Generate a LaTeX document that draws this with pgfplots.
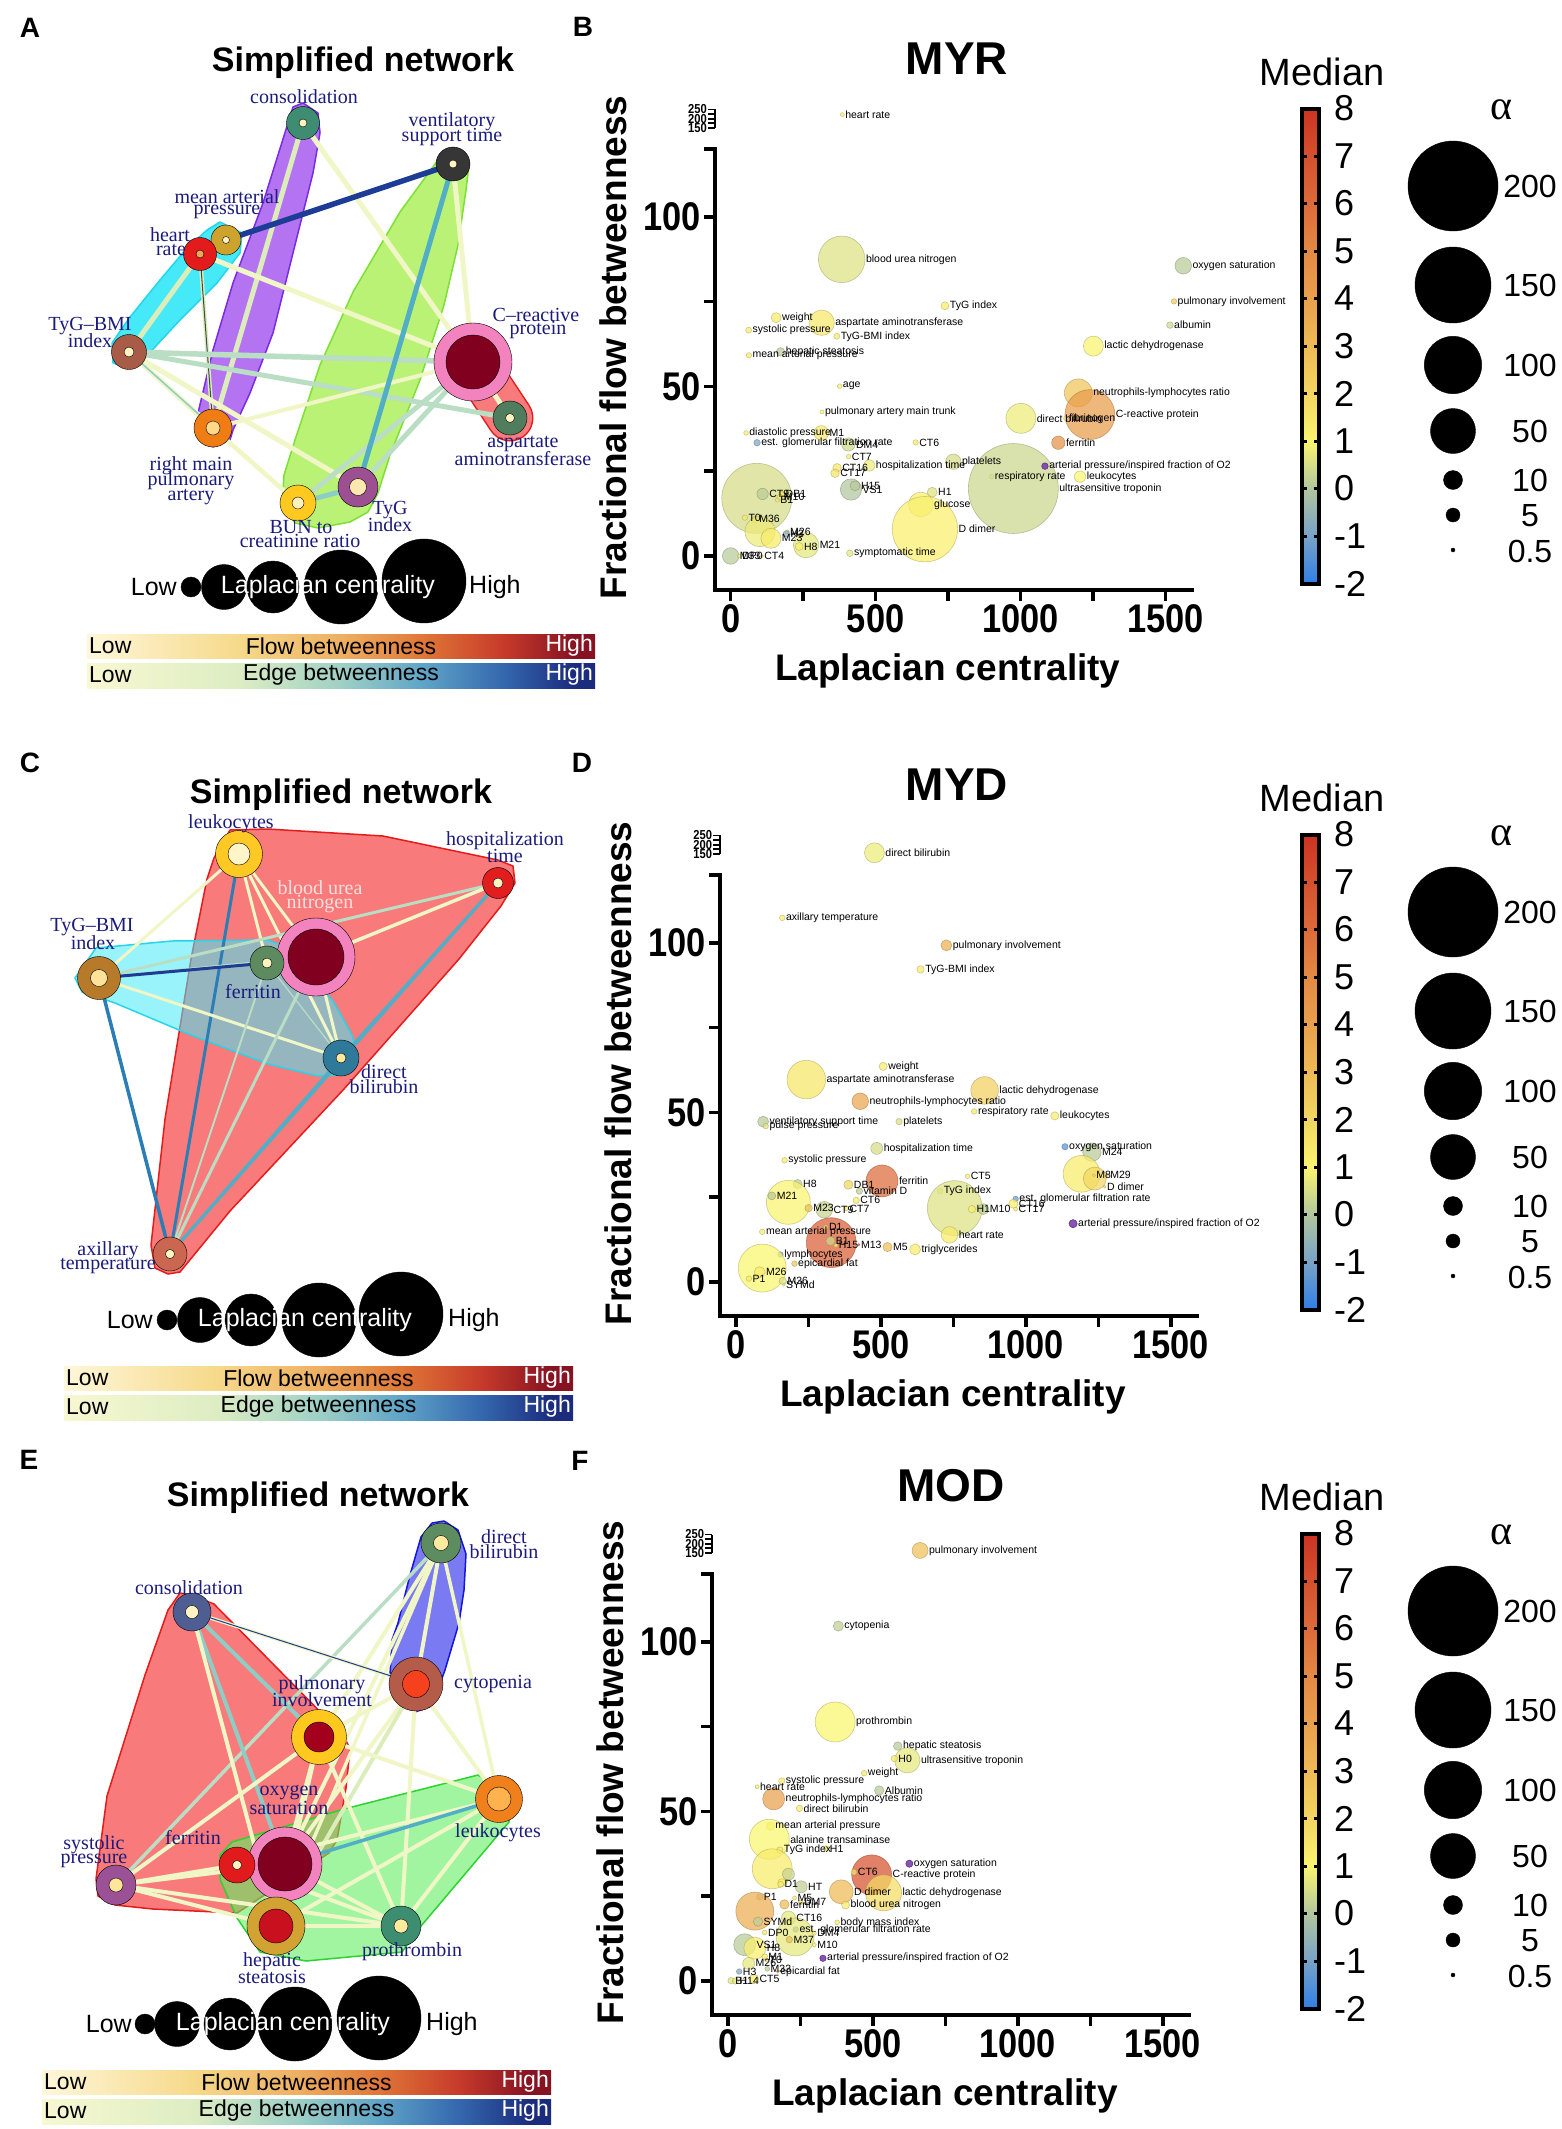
\documentclass[border=0pt]{standalone}
\usepackage{fontspec}
\setmainfont{Liberation Sans}
\newfontfamily\netfont{Liberation Serif}
\newfontfamily\tickfont[FakeStretch=0.86]{Liberation Sans}
\usepackage{pgfplots}
\usepackage{pgfplotstable}
\pgfplotsset{compat=1.18}

% edge colours (edge betweenness)
\definecolor{eL}{HTML}{F1F6C6}
\definecolor{eLG}{HTML}{DCEDBB}
\definecolor{eG}{HTML}{B9DEC4}
\definecolor{eT}{HTML}{8ECDC6}
\definecolor{eT2}{HTML}{52AEC6}
\definecolor{eB}{HTML}{2B7DB6}
\definecolor{eN}{HTML}{1D3C95}
\definecolor{eD}{HTML}{3A4A4A}
\definecolor{labc}{HTML}{1B1B7C}
\definecolor{pale}{HTML}{FFF3C2}
\definecolor{pinkR}{HTML}{F283BE}
\definecolor{maroon}{HTML}{82001F}
\definecolor{pur}{HTML}{7B3FB0}
% node colours
\definecolor{kAcons}{HTML}{3E8C72}
\definecolor{kAvent}{HTML}{363636}
\definecolor{kAmap}{HTML}{CDA32E}
\definecolor{kAhr}{HTML}{E31B1B}
\definecolor{kAhrI}{HTML}{F5A35A}
\definecolor{kAtbmi}{HTML}{A85B46}
\definecolor{kAast}{HTML}{4F7D5D}
\definecolor{kArmpa}{HTML}{F07C14}
\definecolor{kArmpaI}{HTML}{FFD98A}
\definecolor{kAbun}{HTML}{FFC91F}
\definecolor{kAbunI}{HTML}{FFF2B8}
\definecolor{kAtyg}{HTML}{9C4F91}
\definecolor{kAtygI}{HTML}{FDE7B0}
\definecolor{kCleu}{HTML}{FFC925}
\definecolor{kCleuI}{HTML}{FFF5C8}
\definecolor{kChosp}{HTML}{E11D1D}
\definecolor{kCtbmi}{HTML}{B67A2A}
\definecolor{kCtbmiI}{HTML}{FFE29A}
\definecolor{kCfer}{HTML}{5D8B5F}
\definecolor{kCdb}{HTML}{2F7A9A}
\definecolor{kCdbI}{HTML}{FFE9A0}
\definecolor{kCax}{HTML}{CB6650}
\definecolor{kEdb}{HTML}{5C8C60}
\definecolor{kEdbI}{HTML}{FFEBA0}
\definecolor{kEcons}{HTML}{4F5E92}
\definecolor{kEcyt}{HTML}{B55B4A}
\definecolor{kEcytI}{HTML}{F5411E}
\definecolor{kEpul}{HTML}{FFC81F}
\definecolor{kEpulI}{HTML}{A3001E}
\definecolor{kEleu}{HTML}{F0801B}
\definecolor{kEleuI}{HTML}{FFB24E}
\definecolor{kEfer}{HTML}{E11B1B}
\definecolor{kEsys}{HTML}{9A5195}
\definecolor{kEsysI}{HTML}{FFE49A}
\definecolor{kEhep}{HTML}{D2A232}
\definecolor{kEhepI}{HTML}{C9101F}
\definecolor{kEpro}{HTML}{3D8E71}
% hull colours
\definecolor{cyA}{HTML}{45E9F8}
\definecolor{cyAb}{HTML}{25D5EC}
\definecolor{puA}{HTML}{B474F2}
\definecolor{puAb}{HTML}{7A2BE2}
\definecolor{grA}{HTML}{B9F275}
\definecolor{grAb}{HTML}{7DE035}
\definecolor{rdA}{HTML}{F87A7A}
\definecolor{rdAb}{HTML}{E41C1C}
\definecolor{blE}{HTML}{7A7AF2}
\definecolor{blEb}{HTML}{1515E0}
\definecolor{grE}{HTML}{62EE62}
\definecolor{grEb}{HTML}{2ED32E}
% gradient bars
\definecolor{f0}{HTML}{FFF7DA}
\definecolor{f1}{HTML}{F6D98A}
\definecolor{f2}{HTML}{EEB062}
\definecolor{f3}{HTML}{E07737}
\definecolor{f4}{HTML}{C63A2A}
\definecolor{f5}{HTML}{861222}
\definecolor{g0}{HTML}{F8F8D2}
\definecolor{g1}{HTML}{DDEDC3}
\definecolor{g2}{HTML}{9ED0C5}
\definecolor{g3}{HTML}{5FA5C8}
\definecolor{g4}{HTML}{3467AE}
\definecolor{g5}{HTML}{1B2B7E}
% median colour scale, -2 ... 8
\definecolor{m0}{RGB}{47,127,230}
\definecolor{m1}{RGB}{120,162,200}
\definecolor{m2}{RGB}{178,197,158}
\definecolor{m3}{RGB}{250,245,110}
\definecolor{m4}{RGB}{243,214,96}
\definecolor{m5}{RGB}{238,186,85}
\definecolor{m6}{RGB}{233,160,76}
\definecolor{m7}{RGB}{228,137,67}
\definecolor{m8}{RGB}{221,106,57}
\definecolor{m9}{RGB}{213,80,46}
\definecolor{m10}{RGB}{204,51,34}
\pgfdeclarehorizontalshading{flowsh}{100bp}{color(0bp)=(f0); color(25bp)=(f0); color(40bp)=(f1); color(50bp)=(f2); color(58bp)=(f3); color(66bp)=(f4); color(73bp)=(f5); color(75bp)=(f5); color(100bp)=(f5)}
\pgfdeclarehorizontalshading{edgesh}{100bp}{color(0bp)=(g0); color(25bp)=(g0); color(40bp)=(g1); color(50bp)=(g2); color(58bp)=(g3); color(66bp)=(g4); color(73bp)=(g5); color(75bp)=(g5); color(100bp)=(g5)}
\pgfdeclareverticalshading{medsh}{100bp}{color(0bp)=(m0); color(25bp)=(m0); color(30bp)=(m1); color(35bp)=(m2); color(40bp)=(m3); color(45bp)=(m4); color(50bp)=(m5); color(55bp)=(m6); color(60bp)=(m7); color(65bp)=(m8); color(70bp)=(m9); color(75bp)=(m10); color(100bp)=(m10)}

% network helpers (canvas units = reference pixels)
\newcommand\setnd[3]{\expandafter\def\csname ndX#1\endcsname{#2,#3}}
\newcommand\NC[1]{\csname ndX#1\endcsname}
\newcommand\ed[4]{\edef\tmp{\noexpand\addplot[draw=#3,line width=#4pt,forget plot] coordinates {(\NC{#1}) (\NC{#2})};}\tmp}
\newcommand\nd[5]{\edef\tmp{\noexpand\addplot[only marks,mark=*,mark size=#2,mark options={draw=none,fill=#3},forget plot] coordinates {(\NC{#1})};\noexpand\addplot[only marks,mark=*,mark size=#4,mark options={draw=none,fill=#5},forget plot] coordinates {(\NC{#1})};}\tmp}
\newcommand\bub[3]{\addplot[only marks,mark=*,mark size=#3,mark options={draw=none,fill=black},forget plot] coordinates {(#1,#2)};}
\newcommand\nf{\netfont\fontsize{20}{20}\selectfont}
\newcommand\lb[3]{\node[font=\nf,text=labc,inner sep=0pt] at (axis cs:#1,#2) {#3};}
\newcommand\lbw[3]{\node[font=\nf,text=red!12,inner sep=0pt] at (axis cs:#1,#2) {#3};}
\newcommand\barf{\fontsize{23}{23}\selectfont}
\newcommand\lapf{\fontsize{25}{25}\selectfont}
\newcommand\titf{\bfseries\fontsize{34}{34}\selectfont}
\newcommand\letf{\bfseries\fontsize{28}{28}\selectfont}
\newcommand\lblf{\fontsize{10.5}{10.5}\selectfont}

% Laplacian legend circles: y, five circle x
\newcommand\lapc[6]{\bub{#2}{#1}{10}\bub{#3}{#1}{22.5}\bub{#4}{#1}{26}\bub{#5}{#1}{37}\bub{#6}{#1-6}{42}}
% Laplacian legend texts: y, Low right edge, High left edge, text x
\newcommand\lapt[4]{%
  \node[font=\lapf,anchor=east,inner sep=0pt] at (axis cs:#2,#1) {Low};
  \node[font=\lapf,anchor=west,inner sep=0pt] at (axis cs:#3,#1) {High};
  \node[font=\lapf,text=white,inner sep=0pt] at (axis cs:#4,#1) {Laplacian centrality};}
% gradient bars: x0, x1, y0
\newcommand\barsh[3]{%
  \addplot[draw=none,shade,shading=flowsh,forget plot] coordinates {(#1,#3) (#2,#3) (#2,#3+24) (#1,#3+24)} -- cycle;
  \addplot[draw=none,shade,shading=edgesh,forget plot] coordinates {(#1,#3+29) (#2,#3+29) (#2,#3+54) (#1,#3+54)} -- cycle;}
\newcommand\bart[3]{%
  \node[font=\barf,anchor=west,inner sep=0pt] at (axis cs:#1+2,#3+12) {Low};
  \node[font=\barf,inner sep=0pt] at (axis cs:{(#1+#2)/2},#3+12) {Flow betweenness};
  \node[font=\barf,anchor=east,inner sep=0pt,text=white] at (axis cs:#2-2,#3+12) {High};
  \node[font=\barf,anchor=west,inner sep=0pt] at (axis cs:#1+2,#3+41) {Low};
  \node[font=\barf,inner sep=0pt] at (axis cs:{(#1+#2)/2},#3+41) {Edge betweenness};
  \node[font=\barf,anchor=east,inner sep=0pt,text=white] at (axis cs:#2-2,#3+41) {High};}
% median colour bar and alpha size legend: y offset
\newcommand\sizeb[1]{%
  \addplot[shade,shading=medsh,draw=black,line width=4pt,forget plot] coordinates {(1302,108.5+#1) (1319,108.5+#1) (1319,583.5+#1) (1302,583.5+#1)} -- cycle;
  \bub{1453}{186+#1}{45}\bub{1453}{285+#1}{38}\bub{1453}{365+#1}{28.7}\bub{1453}{431+#1}{22.5}
  \bub{1453}{480+#1}{9.5}\bub{1453}{515+#1}{7}\bub{1453}{550+#1}{2}}
\newcommand\sizet[1]{%
  \node[font=\fontsize{38}{38}\selectfont] at (axis cs:1322,72+#1) {Median};
  \node[font=\netfont\fontsize{42}{42}\selectfont] at (axis cs:1501,110+#1) {α};
  \pgfplotsinvokeforeach{-1,0,1,2,3,4,5,6,7}{%
    \draw[line width=3pt] (axis cs:1302,{583.5-(##1+2)*47.5+#1}) -- (axis cs:1307,{583.5-(##1+2)*47.5+#1});
    \draw[line width=3pt] (axis cs:1314,{583.5-(##1+2)*47.5+#1}) -- (axis cs:1319,{583.5-(##1+2)*47.5+#1});}
  \pgfplotsinvokeforeach{-2,-1,0,1,2,3,4,5,6,7,8}{%
    \node[font=\fontsize{36}{36}\selectfont,anchor=west,inner sep=0pt] at (axis cs:1334,{583.5-(##1+2)*47.5+#1}) {##1};}
  \node[font=\fontsize{32}{32}\selectfont] at (axis cs:1530,186+#1) {200};
  \node[font=\fontsize{32}{32}\selectfont] at (axis cs:1530,285+#1) {150};
  \node[font=\fontsize{32}{32}\selectfont] at (axis cs:1530,365+#1) {100};
  \node[font=\fontsize{32}{32}\selectfont] at (axis cs:1530,431+#1) {50};
  \node[font=\fontsize{32}{32}\selectfont] at (axis cs:1530,480+#1) {10};
  \node[font=\fontsize{32}{32}\selectfont] at (axis cs:1530,516+#1) {5};
  \node[font=\fontsize{32}{32}\selectfont] at (axis cs:1530,551+#1) {0.5};}

\pgfplotsset{
  colormap={med}{rgb255(0pt)=(47,127,230); rgb255(1pt)=(120,162,200); rgb255(2pt)=(178,197,158); rgb255(3pt)=(250,245,110); rgb255(4pt)=(243,214,96); rgb255(5pt)=(238,186,85); rgb255(6pt)=(233,160,76); rgb255(7pt)=(228,137,67); rgb255(8pt)=(221,106,57); rgb255(9pt)=(213,80,46); rgb255(10pt)=(204,51,34)},
  canvas/.style={at={(0pt,0pt)}, anchor=south west, scale only axis, width=1562pt, height=2129pt,
    xmin=0, xmax=1562, ymin=0, ymax=2129, y dir=reverse, hide axis, clip=false},
  geom/.style={anchor=south west, scale only axis, width=479pt, height=484.8pt,
    xmin=-54, xmax=1598, ymin=-10, ymax=133, clip=false},
  scat/.style={geom,
    axis x line*=bottom, axis y line*=left,
    x axis line style={line width=3.5pt},
    y axis line style={draw=none},
    xtick={0,500,1000,1500}, minor xtick={250,750,1250},
    ytick={0,50,100}, minor ytick={25,75,120},
    extra y ticks={126.3,127.65,129,130.35,131.7},
    extra y tick labels={150,,200,,250},
    extra y tick style={major tick length=7pt, tick style={line width=1.8pt},
      ticklabel style={font=\tickfont\bfseries\fontsize{13}{13}\selectfont, inner sep=1pt}},
    tick align=outside, major tick length=11pt, minor tick length=11pt,
    tick style={black, line width=3.5pt},
    ticklabel style={font=\tickfont\bfseries\fontsize{40}{40}\selectfont},
    /pgf/number format/assume math mode=true,
    /pgf/number format/1000 sep={},
    xlabel={Laplacian centrality}, ylabel={Fractional flow betweenness},
    xlabel style={font=\bfseries\fontsize{37}{37}\selectfont, at={(axis description cs:0.486,-0.168)}, anchor=center},
    ylabel style={font=\bfseries\fontsize{37}{37}\selectfont, at={(axis description cs:-0.212,0.5)}, anchor=center},
    point meta min=-2, point meta max=8},
}
% one bubble per table row: #1 table, #2 marker style
\newcommand\bubbles[2]{%
  \pgfplotstablegetrowsof{#1}\pgfmathtruncatemacro\nrows{\pgfplotsretval-1}%
  \pgfplotsforeachungrouped \i in {0,...,\nrows}{%
    \pgfplotstablegetelem{\i}{x}\of{#1}\let\vx\pgfplotsretval
    \pgfplotstablegetelem{\i}{y}\of{#1}\let\vy\pgfplotsretval
    \pgfplotstablegetelem{\i}{r}\of{#1}\let\vr\pgfplotsretval
    \pgfplotstablegetelem{\i}{m}\of{#1}\let\vm\pgfplotsretval
    \edef\tmp{\noexpand\addplot[scatter, only marks, mark=*, mark size=\vr, point meta=\vm, scatter/use mapped color={#2}, forget plot] coordinates {(\vx,\vy)};}\tmp}}
% labels right of each bubble
\newcommand\bublabels[1]{%
  \pgfplotstablegetrowsof{#1}\pgfmathtruncatemacro\nrows{\pgfplotsretval-1}%
  \pgfplotsforeachungrouped \i in {0,...,\nrows}{%
    \pgfplotstablegetelem{\i}{x}\of{#1}\let\vx\pgfplotsretval
    \pgfplotstablegetelem{\i}{y}\of{#1}\let\vy\pgfplotsretval
    \pgfplotstablegetelem{\i}{r}\of{#1}\let\vr\pgfplotsretval
    \pgfplotstablegetelem{\i}{lab}\of{#1}\let\vl\pgfplotsretval
    \edef\tmp{\noexpand\node[anchor=west, xshift=\vr pt+0.8pt, font=\noexpand\lblf, inner sep=0pt] at (axis cs:\vx,\vy) {\vl};}\tmp}}
\newcommand\yline{\draw[line width=3.5pt,line cap=rect] (axis cs:-54,-10) -- (axis cs:-54,120);
  \draw[line width=1.8pt] (axis cs:-54,126.3) -- (axis cs:-54,131.7);}

% ---------- scatter data: x = Laplacian centrality, y = flow betweenness (150-250 segment compressed above 126), r = radius, m = median
\pgfplotstableread{
x y r m lab
385 130.2 2 1.2 {heart rate}
383 87.5 23.3 0.6 {blood urea nitrogen}
1561 85.6 8.3 0.1 {oxygen saturation}
1529 75.1 2.7 2.3 {pulmonary involvement}
1515 68.1 3.3 0.4 {albumin}
739 73.8 4 1.3 {TyG index}
157 70.3 5 1.3 {weight}
314 68.8 12.7 1.4 {aspartate aminotransferase}
62 66.6 3 1.3 {systolic pressure}
366 64.8 3 1.3 {TyG-BMI index}
172 60.2 4.3 0.1 {hepatic steatosis}
63 59.2 2.7 1.3 {mean arterial pressure}
1251 61.9 10 1.1 {lactic dehydrogenase}
376 50.1 2.3 1.2 {age}
1199 48.1 14 2.6 {neutrophils-lymphocytes ratio}
1239 41.7 25 4.2 {C-reactive protein}
1001 40.6 15 0.8 {direct bilirubin}
1156 40.6 2.3 1.6 {fibrinogen}
315 42.5 2 1.1 {pulmonary artery main trunk}
53 36.3 2.3 1.2 {diastolic pressure}
91 33.4 3.3 -0.9 {est. glomerular filtration rate}
313 36.3 7.3 1.4 {M1}
406 32.9 6.7 0.4 {DM4}
638 33.5 2.7 1.3 {CT6}
1130 33.4 6.7 4.6 {ferritin}
407 29.3 2.3 1.2 {CT7}
478 26.7 5.7 0.8 {hospitalization time}
768 27.8 7.7 0.5 {platelets}
367 26 4.3 1.5 {CT16}
360 24.4 4.3 1.5 {CT17}
900 23.4 2.3 1.2 {respiratory rate}
1205 23.4 5.7 1.0 {leukocytes}
975 19.9 45 0.35 {ultrasensitive troponin}
415 19.6 10.7 0.0 {VS1}
429 20.7 5 0.1 {H15}
90 17 35 0.5 {}
110 18.3 5.7 0.1 {CT9}
176 18.2 3 1.6 {DB1}
170 17.3 3 1.3 {M10}
161 16.5 2 1.3 {B1}
695 18.8 5 0.6 {H1}
656 15.2 12.3 1.2 {glucose}
670 7.9 32.7 1.2 {D dimer}
49 11.3 2.7 1.3 {T0}
84 10.8 3.3 1.2 {M36}
101 7.2 15 0.8 {}
195 7.1 2 1.2 {M26}
192 6.5 3.3 -0.7 {H3}
139 5.2 10 1.3 {M23}
260 3.2 12.7 0.7 {M21}
236 2.8 4 1.2 {H8}
0 0 8.3 0.1 {M33}
30 0 2 1.3 {DP0}
107 0 1.7 1.3 {CT4}
411 0.8 3.3 0.7 {symptomatic time}
}\tabB
\pgfplotstableread{
x y r m lab
1084 26.5 3.3 -1.6 {arterial pressure/inspired fraction of O2}
}\tabBp
\pgfplotstableread{
x y r m lab
478 126.6 10 0.8 {direct bilirubin}
160 107.4 2.8 1.2 {axillary temperature}
726 99.3 5.5 3.4 {pulmonary involvement}
637 92.2 3.7 1.3 {TyG-BMI index}
508 63.6 4.1 1.3 {weight}
243 59.7 19.3 1.5 {aspartate aminotransferase}
858 56.5 13.8 2.2 {lactic dehydrogenase}
429 53.3 8.3 3.8 {neutrophils-lymphocytes ratio}
822 50.3 2.8 1.3 {respiratory rate}
1100 49 4.1 1.3 {leukocytes}
94 47.3 5.5 0.1 {ventilatory support time}
103 46 2.8 0.7 {pulse pressure}
563 47.3 3.2 0.6 {platelets}
1135 39.9 3.2 -1.4 {oxygen saturation}
1228 38.3 9.2 0.1 {M24}
486 39.4 6 0.5 {hospitalization time}
168 35.9 2.8 1.3 {systolic pressure}
1192 31.9 18.4 1.3 {}
1238 30.5 11.5 2.0 {}
1235 31.5 1.5 1.3 {M8}
1283 31.5 1.5 1.3 {M29}
1272 28.1 1.5 1.5 {D dimer}
504 29.8 16 6.0 {ferritin}
799 31.2 2.3 1.2 {CT5}
213 28.9 4.6 0.2 {H8}
181 23.5 22 1.1 {}
124 25.4 4 0.1 {M21}
388 28.7 4.6 2.0 {DB1}
426 26.8 3.2 0.2 {vitamin D}
415 24.1 3.2 1.3 {CT6}
381 21.7 2.3 1.3 {CT7}
251 21.8 3.7 2.8 {M23}
305 21.3 8.3 0.3 {CT9}
704 26.8 2.8 1.2 {TyG index}
755 21.8 27.5 0.6 {}
814 21.5 3.7 1.2 {H1}
854 21.5 5.5 0.2 {M10}
737 13.9 8.3 1.3 {heart rate}
965 24.5 2.8 -1.2 {est. glomerular filtration rate}
957 23.1 4.6 1.3 {CT16}
965 21.5 2 1.3 {CT17}
91 14.8 2.8 1.3 {mean arterial pressure}
329 11.6 25 6.5 {}
310 16.2 2.3 1.5 {D1}
326 12.1 4.6 0.4 {B1}
345 10.8 2 1.2 {H15}
424 11 1.2 6 {M13}
523 10.3 4.6 2.8 {M5}
618 9.6 5.5 1.3 {triglycerides}
154 8.1 2.8 -0.8 {lymphocytes}
202 5.4 2.8 2.5 {epicardial fat}
91 4.1 24 1.0 {}
82 2.9 5.5 1.3 {M26}
45 1 2.8 1.3 {P1}
162 0.3 3.7 0.6 {M36}
165 -0.8 1.5 1 {SYMd}
}\tabD
\pgfplotstableread{
x y r m lab
1163 17.2 4.1 0 {arterial pressure/inspired fraction of O2}
}\tabDp
\pgfplotstableread{
x y r m lab
663 127 8 2.8 {pulmonary involvement}
381 104.7 5.1 0.2 {cytopenia}
370 76.4 20 1.0 {prothrombin}
586 69.3 4.3 0.1 {hepatic steatosis}
619 65.1 12.7 0.7 {ultrasensitive troponin}
574 65.6 3.2 1.3 {H0}
470 61.3 2.8 1.3 {weight}
186 59 3.2 1.3 {systolic pressure}
101 57.3 2 1.3 {heart rate}
522 56.2 4.7 0.1 {Albumin}
158 53.7 11 4.0 {neutrophils-lymphocytes ratio}
247 50.9 3.2 1.3 {direct bilirubin}
147 45.7 4 1.2 {mean arterial pressure}
143 41.8 20 1.0 {alanine transaminase}
179 38.6 3.2 1.3 {TyG index}
339 39.1 2.8 1.3 {H1}
153 33.1 20 1.3 {}
209 31.5 6 0.3 {}
186 29 4 1.2 {}
253 27.8 6 0.2 {HT}
182 28.5 3 1.3 {D1}
496 31.3 20 7.0 {C-reactive protein}
435 32.1 3 1.5 {CT6}
537 26 18 1.8 {lactic dehydrogenase}
391 26.3 12 3.0 {D dimer}
406 22.4 4 1.3 {blood urea nitrogen}
110 24.8 3.2 0.3 {P1}
93 20.6 19 3.5 {}
195 22.6 4.7 3.0 {ferritin}
230 24.5 2 1.3 {M5}
251 23.2 2.4 1.3 {DM7}
209 18.6 7 0.7 {CT16}
377 17.3 2.4 1.3 {body mass index}
234 15.2 2.8 -1.3 {est. glomerular filtration rate}
232 13 19 0.7 {}
104 17.5 4.7 0.2 {SYMd}
127 14.3 2.4 1.3 {DP0}
212 12.2 3.2 2.8 {M37}
298 14.1 2 1.3 {DM4}
298 10.7 2 1.3 {M10}
58 10.7 11 0.1 {VS1}
93 9.7 11 1.2 {H8}
127 7.2 2.8 1.3 {M1}
134 6.2 2 1.3 {T0}
72 5.2 6 0.7 {M26}
39 2.8 2.8 -0.8 {H3}
136 3.6 2.4 0.2 {M33}
172 2.8 1.6 2.8 {epicardial fat}
11 0.1 3.2 0.7 {B1}
26 0 3.2 0.7 {H14}
90 0.6 4.7 1.3 {CT5}
}\tabF
\pgfplotstableread{
x y r m lab
626 34.6 3.6 0 {oxygen saturation}
328 6.7 3.2 0 {arterial pressure/inspired fraction of O2}
}\tabFp

% ---------- network node positions (reference pixels)
\setnd{Acons}{303}{123}\setnd{Avent}{453}{164}\setnd{Amap}{226}{240}\setnd{Ahr}{200}{254}
\setnd{Atbmi}{129}{352}\setnd{Acrp}{473}{362}\setnd{Aast}{510}{418}\setnd{Armpa}{213}{428}
\setnd{Abun}{298}{503}\setnd{Atyg}{358}{487}
\setnd{Cleu}{239}{854}\setnd{Chosp}{498}{883}\setnd{Cbun}{316}{957}\setnd{Ctbmi}{99}{978}
\setnd{Cfer}{267}{963}\setnd{Cdb}{341}{1058}\setnd{Cax}{170}{1254}
\setnd{Edb}{441}{1543}\setnd{Econs}{192}{1612}\setnd{Ecyt}{416}{1684}\setnd{Epul}{319}{1737}
\setnd{Eleu}{499}{1799}\setnd{Eoxy}{285}{1864}\setnd{Efer}{237}{1865}\setnd{Esys}{116}{1885}
\setnd{Ehep}{276}{1926}\setnd{Epro}{401}{1926}

\begin{document}
\begin{tikzpicture}
% ===== networks and legends (graphics) =====
\begin{axis}[canvas]
% Panel A
\addplot[fill=cyA, draw=cyAb, line width=1.5pt, line join=round, forget plot] coordinates {(220,222) (242,233) (240,253) (217,283) (180,320) (143,360) (127,368) (113,363) (112,343) (130,317) (160,280) (187,248) (207,230)} -- cycle;
\addplot[fill=puA, draw=puAb, line width=1.5pt, line join=round, forget plot] coordinates {(303,103) (318,113) (320,133) (313,173) (293,253) (273,333) (250,393) (233,430) (230,440) (213,447) (200,440) (198,413) (213,350) (233,283) (263,203) (288,123) (293,107)} -- cycle;
\addplot[fill=grA, draw=grAb, line width=1.5pt, line join=round, forget plot] coordinates {(447,149) (462,152) (469,165) (466,190) (458,245) (444,305) (420,380) (390,455) (378,493) (368,512) (350,522) (318,528) (295,523) (282,505) (284,475) (295,440) (320,365) (353,292) (400,212) (438,160)} -- cycle;
\addplot[draw=rdAb, line width=47pt, line cap=round, forget plot] coordinates {(473,362) (510,418)};
\addplot[draw=rdA, line width=44pt, line cap=round, forget plot] coordinates {(473,362) (510,418)};
\ed{Acons}{Armpa}{eLG}{5}
\ed{Ahr}{Atbmi}{eLG}{5}
\ed{Ahr}{Armpa}{eLG}{4}
\ed{Ahr}{Armpa}{eD}{1}
\ed{Ahr}{Acrp}{eL}{5}
\ed{Atbmi}{Acrp}{eG}{5.5}
\ed{Atbmi}{Aast}{eG}{5}
\ed{Atbmi}{Armpa}{eL}{5}
\ed{Atbmi}{Atyg}{eL}{5}
\ed{Atbmi}{Abun}{eT}{1.5}
\ed{Armpa}{Acrp}{eL}{4}
\ed{Armpa}{Abun}{eL}{4.5}
\ed{Acrp}{Abun}{eG}{5}
\ed{Acrp}{Atyg}{eG}{5}
\ed{Abun}{Atyg}{eT}{5}
\ed{Acrp}{Aast}{eL}{5}
\ed{Acons}{Acrp}{eL}{5}
\ed{Avent}{Acrp}{eL}{5}
\ed{Avent}{Atyg}{eT2}{5}
\ed{Amap}{Avent}{eN}{5.5}
\nd{Acons}{16.5}{kAcons}{4}{pale}
\nd{Avent}{17}{kAvent}{4}{pale}
\nd{Amap}{15}{kAmap}{3.5}{pale}
\nd{Ahr}{16.5}{kAhr}{4}{kAhrI}
\nd{Atbmi}{17.5}{kAtbmi}{5}{pale}
\nd{Acrp}{39}{pinkR}{27}{maroon}
\nd{Aast}{17}{kAast}{4.5}{pale}
\nd{Armpa}{19}{kArmpa}{7}{kArmpaI}
\nd{Abun}{18}{kAbun}{6}{kAbunI}
\nd{Atyg}{20}{kAtyg}{8.5}{kAtygI}
\lapc{587}{191}{224}{273}{341}{424}
\barsh{87}{595}{634}
% Panel C
\addplot[fill=rdA, draw=rdAb, line width=1.5pt, line join=round, forget plot] coordinates {(230,830) (268,829) (383,836) (498,860) (513,866) (515,883) (501,906) (459,959) (344,1089) (230,1211) (180,1272) (168,1274) (155,1268) (151,1245) (165,1119) (191,959) (207,879) (214,858)} -- cycle;
\addplot[fill=cyA, fill opacity=0.55, draw=cyAb, line width=1.5pt, line join=round, forget plot] coordinates {(75,978) (96,948) (172,941) (268,940) (283,946) (333,1001) (352,1035) (358,1060) (344,1075) (318,1076) (268,1064) (191,1035) (115,1003) (82,992)} -- cycle;
\ed{Cleu}{Ctbmi}{eL}{3}
\ed{Cleu}{Cax}{eB}{3}
\ed{Cleu}{Cfer}{eL}{3}
\ed{Cleu}{Cbun}{eL}{3}
\ed{Cleu}{Cdb}{eL}{3}
\ed{Ctbmi}{Cbun}{eG}{3}
\ed{Ctbmi}{Cdb}{eL}{3}
\ed{Ctbmi}{Cax}{eB}{3.5}
\ed{Chosp}{Ctbmi}{eG}{3}
\ed{Ctbmi}{Cfer}{eN}{3}
\ed{Chosp}{Cbun}{eL}{3.5}
\ed{Chosp}{Cdb}{eT2}{3}
\ed{Chosp}{Cax}{eT2}{3}
\ed{Cbun}{Cax}{eG}{3}
\ed{Cdb}{Cax}{eT2}{3}
\ed{Cfer}{Cdb}{eG}{1.2}
\ed{Cbun}{Cdb}{eL}{3}
\ed{Cfer}{Cax}{eG}{2}
\nd{Cleu}{23.5}{kCleu}{11}{kCleuI}
\nd{Chosp}{15.5}{kChosp}{5}{pale}
\nd{Cbun}{39}{pinkR}{28}{maroon}
\nd{Ctbmi}{21.5}{kCtbmi}{8.5}{kCtbmiI}
\nd{Cfer}{17}{kCfer}{5}{pale}
\nd{Cdb}{18}{kCdb}{5}{kCdbI}
\nd{Cax}{17}{kCax}{4.6}{pale}
\lapc{1320}{167}{200}{251}{319}{401}
\barsh{64}{573}{1366}
% Panel E
\addplot[fill=rdA, draw=rdAb, line width=1.5pt, line join=round, forget plot] coordinates {(180,1593) (191,1595) (214,1604) (344,1736) (350,1749) (346,1788) (337,1840) (329,1853) (237,1913) (153,1909) (115,1905) (98,1896) (96,1879) (107,1796) (145,1675) (168,1610)} -- cycle;
\addplot[fill=blE, draw=blEb, line width=1.5pt, line join=round, forget plot] coordinates {(444,1521) (458,1530) (466,1554) (464,1590) (459,1623) (445,1670) (432,1706) (415,1712) (400,1700) (390,1675) (392,1640) (398,1623) (410,1575) (421,1537) (432,1523)} -- cycle;
\addplot[fill=grE, fill opacity=0.6, draw=grEb, line width=1.5pt, line join=round, forget plot] coordinates {(220,1855) (232,1842) (344,1809) (478,1775) (513,1796) (509,1822) (421,1926) (402,1952) (306,1961) (260,1952) (237,1918) (220,1879)} -- cycle;
\ed{Edb}{Ecyt}{eL}{4}
\ed{Edb}{Epul}{eL}{4}
\ed{Edb}{Eoxy}{eL}{4}
\ed{Edb}{Esys}{eG}{3.5}
\ed{Edb}{Eleu}{eL}{3.5}
\ed{Edb}{Ehep}{eL}{3.5}
\ed{Econs}{Ecyt}{eL}{3.5}
\ed{Econs}{Ecyt}{eN}{1}
\ed{Econs}{Epul}{eT}{4}
\ed{Econs}{Eoxy}{eT}{4}
\ed{Econs}{Ehep}{eL}{4}
\ed{Ecyt}{Epul}{eL}{4}
\ed{Ecyt}{Eoxy}{eL}{4}
\ed{Ecyt}{Epro}{eL}{4}
\ed{Ecyt}{Eleu}{eL}{4}
\ed{Ecyt}{Ehep}{eLG}{4}
\ed{Epul}{Esys}{eL}{4}
\ed{Epul}{Eoxy}{eL}{4}
\ed{Epul}{Ehep}{eL}{4}
\ed{Epul}{Epro}{eL}{4}
\ed{Epul}{Eleu}{eL}{4}
\ed{Eoxy}{Esys}{eL}{4}
\ed{Eoxy}{Epro}{eL}{4}
\ed{Esys}{Efer}{eL}{4}
\ed{Esys}{Ehep}{eL}{4}
\ed{Esys}{Epro}{eL}{4}
\ed{Ehep}{Epro}{eL}{4}
\ed{Ehep}{Eleu}{eL}{4}
\ed{Efer}{Epro}{eL}{4}
\ed{Epro}{Eleu}{eL}{4}
\ed{Efer}{Eleu}{eL}{4}
\ed{Eoxy}{Eleu}{eT2}{3.5}
\nd{Edb}{20}{kEdb}{7.5}{kEdbI}
\nd{Econs}{19}{kEcons}{6.5}{pale}
\nd{Ecyt}{27}{kEcyt}{13.5}{kEcytI}
\nd{Epul}{27.5}{kEpul}{15}{kEpulI}
\nd{Eleu}{23.5}{kEleu}{12}{kEleuI}
\nd{Eoxy}{37}{pinkR}{27}{maroon}
\nd{Efer}{18}{kEfer}{4.6}{pale}
\nd{Esys}{20}{kEsys}{7}{kEsysI}
\nd{Ehep}{29}{kEhep}{17}{kEhepI}
\nd{Epro}{20}{kEpro}{7}{kEdbI}
\lapc{2024}{145}{177}{230}{295}{379}
\barsh{42}{551}{2070}
\sizeb{0}
\sizeb{726}
\sizeb{1425}
\end{axis}
% ===== B: MYR =====
\begin{axis}[scat, at={(715pt,1539.1pt)}]
\yline
\bubbles{\tabB}{draw=mapped color!65!black, draw opacity=0.5, fill=mapped color, fill opacity=0.72, line width=0.6pt}
\bubbles{\tabBp}{draw=pur!70!black, fill=pur, fill opacity=0.9, line width=0.5pt}
\end{axis}
\begin{axis}[geom, hide axis, at={(715pt,1539.1pt)}]
\bublabels{\tabB}\bublabels{\tabBp}
\end{axis}
% ===== D: MYD =====
\begin{axis}[scat, at={(720.2pt,813.1pt)}]
\yline
\bubbles{\tabD}{draw=mapped color!65!black, draw opacity=0.5, fill=mapped color, fill opacity=0.72, line width=0.6pt}
\bubbles{\tabDp}{draw=pur!70!black, fill=pur, fill opacity=0.9, line width=0.5pt}
\end{axis}
\begin{axis}[geom, hide axis, at={(720.2pt,813.1pt)}]
\bublabels{\tabD}\bublabels{\tabDp}
\end{axis}
% ===== F: MOD =====
\begin{axis}[scat, at={(712.2pt,114.1pt)}]
\yline
\bubbles{\tabF}{draw=mapped color!65!black, draw opacity=0.5, fill=mapped color, fill opacity=0.72, line width=0.6pt}
\bubbles{\tabFp}{draw=pur!70!black, fill=pur, fill opacity=0.9, line width=0.5pt}
\end{axis}
\begin{axis}[geom, hide axis, at={(712.2pt,114.1pt)}]
\bublabels{\tabF}\bublabels{\tabFp}
\end{axis}
% ===== all texts of the networks and legends =====
\begin{axis}[canvas]
\lb{304}{97}{consolidation}
\lb{452}{122}{ventilatory}\lb{452}{137}{support time}
\lb{227}{197}{mean arterial}\lb{227}{212}{pressure}
\lb{170}{235}{heart}\lb{171}{250}{rate}
\lb{90}{326}{TyG–BMI}\lb{90}{341}{index}
\lb{536}{315}{C–reactive}\lb{538}{330}{protein}
\lb{523}{444}{aspartate}\lb{523}{459}{aminotransferase}
\lb{191}{466}{right main}\lb{191}{481}{pulmonary}\lb{191}{497}{artery}
\lb{301}{527}{BUN to}\lb{300}{541}{creatinine ratio}
\lb{390}{510}{TyG}\lb{390}{525}{index}
\lapt{587}{177}{469}{328}
\bart{87}{595}{634}
\lb{231}{824}{leukocytes}
\lb{505}{841}{hospitalization}\lb{505}{856}{time}
\lbw{320}{888}{blood urea}\lbw{320}{904}{nitrogen}
\lb{92}{927}{TyG–BMI}\lb{93}{943}{index}
\lb{253}{992}{ferritin}
\lb{384}{1072}{direct}\lb{384}{1087}{bilirubin}
\lb{108}{1251}{axillary}\lb{108}{1266}{temperature}
\lapt{1320}{153}{448}{305}
\bart{64}{573}{1366}
\lb{504}{1537}{direct}\lb{504}{1552}{bilirubin}
\lb{189}{1588}{consolidation}
\lb{493}{1684}{cytopenia}
\lb{322}{1685}{pulmonary}\lb{322}{1700}{involvement}
\lb{498}{1833}{leukocytes}
\lb{289}{1793}{oxygen}\lb{289}{1808}{saturation}
\lb{193}{1838}{ferritin}
\lb{94}{1845}{systolic}\lb{94}{1861}{pressure}
\lb{272}{1962}{hepatic}\lb{272}{1977}{steatosis}
\lb{412}{1952}{prothrombin}
\lapt{2024}{132}{426}{283}
\bart{42}{551}{2070}
\node[font=\titf] at (axis cs:363,63) {Simplified network};
\node[font=\titf] at (axis cs:341,795) {Simplified network};
\node[font=\titf] at (axis cs:318,1498) {Simplified network};
\node[font=\letf] at (axis cs:30,28) {A};
\node[font=\letf] at (axis cs:583,27) {B};
\node[font=\letf] at (axis cs:30,763) {C};
\node[font=\letf] at (axis cs:582,763) {D};
\node[font=\letf] at (axis cs:29,1460) {E};
\node[font=\letf] at (axis cs:580,1461) {F};
\node[font=\bfseries\fontsize{46}{46}\selectfont] at (axis cs:957,59) {MYR};
\node[font=\bfseries\fontsize{46}{46}\selectfont] at (axis cs:957,785) {MYD};
\node[font=\bfseries\fontsize{46}{46}\selectfont] at (axis cs:951,1486) {MOD};
\sizet{0}
\sizet{726}
\sizet{1425}
\end{axis}
\pgfresetboundingbox
\path (0pt,0pt) rectangle (1562pt,2129pt);
\end{tikzpicture}
\end{document}
